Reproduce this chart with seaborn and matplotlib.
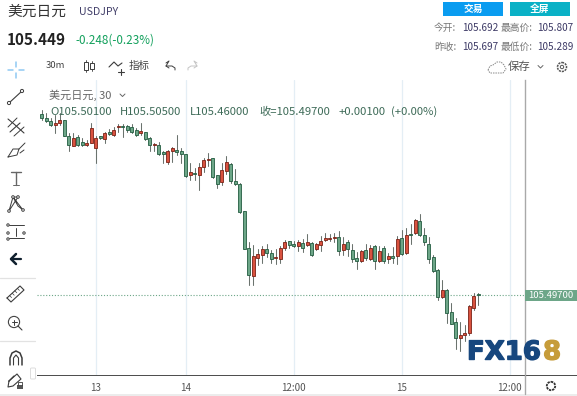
# USD/JPY 30m candlesticks inside a trading-widget frame

import numpy as np
import pandas as pd
import matplotlib
matplotlib.use("Agg")
import matplotlib.pyplot as plt
import matplotlib.patheffects as pe
from matplotlib.patches import Circle, FancyBboxPatch, Rectangle
import seaborn as sns

# ── Data ────────────────────────────────────────────────────────
candle_dir = list("GGGRRGGRGG" "RRRGRGRRGG" "GGRGGRGGRR" "GGGRGRRRGG" "RRGGGGGRRR"
                  "GGRRRGGRGR" "GRRRRRGRGG" "GRGRGRGRGR" "GRGRGGGGGR" "GGGRRRRG")
body_top = [106.205, 106.190, 106.177, 106.170, 106.182, 106.182, 106.119, 106.110, 106.115, 106.097,
            106.093, 106.149, 106.110, 106.117, 106.130, 106.135, 106.143, 106.156, 106.156, 106.157,
            106.154, 106.143, 106.140, 106.134, 106.110, 106.088, 106.084, 106.057, 106.061, 106.071,
            106.065, 106.061, 106.048, 105.979, 105.974, 105.997, 106.026, 106.028, 106.032, 105.965,
            105.985, 106.017, 106.009, 105.944, 105.930, 105.827, 105.681, 105.649, 105.658, 105.677,
            105.677, 105.662, 105.647, 105.684, 105.707, 105.709, 105.697, 105.707, 105.701, 105.705,
            105.701, 105.696, 105.710, 105.722, 105.722, 105.725, 105.724, 105.698, 105.707, 105.675,
            105.642, 105.670, 105.675, 105.684, 105.689, 105.672, 105.681, 105.651, 105.649, 105.716,
            105.720, 105.731, 105.736, 105.792, 105.789, 105.733, 105.698, 105.646, 105.597, 105.520,
            105.519, 105.432, 105.393, 105.344, 105.350, 105.456, 105.495, 105.501]
body_bot = [106.188, 106.179, 106.160, 106.160, 106.171, 106.117, 106.082, 106.080, 106.084, 106.083,
            106.082, 106.093, 106.071, 106.110, 106.106, 106.126, 106.121, 106.152, 106.153, 106.141,
            106.136, 106.122, 106.130, 106.106, 106.082, 106.082, 106.048, 106.049, 106.019, 106.060,
            106.058, 106.048, 105.961, 105.965, 105.969, 105.967, 105.996, 106.026, 105.957, 105.932,
            105.941, 105.984, 105.945, 105.930, 105.824, 105.680, 105.575, 105.571, 105.645, 105.655,
            105.662, 105.638, 105.645, 105.641, 105.684, 105.694, 105.688, 105.688, 105.684, 105.692,
            105.653, 105.679, 105.692, 105.714, 105.718, 105.720, 105.672, 105.675, 105.679, 105.638,
            105.632, 105.633, 105.645, 105.640, 105.632, 105.633, 105.632, 105.638, 105.645, 105.651,
            105.658, 105.664, 105.732, 105.740, 105.732, 105.705, 105.638, 105.592, 105.493, 105.493,
            105.430, 105.387, 105.333, 105.333, 105.344, 105.352, 105.450, 105.497]
highs = [106.221, 106.208, 106.188, 106.201, 106.208, 106.182, 106.130, 106.130, 106.123, 106.110,
         106.104, 106.169, 106.117, 106.119, 106.136, 106.145, 106.153, 106.166, 106.166, 106.162,
         106.166, 106.149, 106.169, 106.136, 106.114, 106.091, 106.095, 106.062, 106.065, 106.074,
         106.123, 106.071, 106.049, 106.013, 105.993, 106.013, 106.032, 106.054, 106.034, 105.967,
         106.013, 106.039, 106.013, 105.989, 105.935, 105.828, 105.707, 105.694, 105.677, 105.688,
         105.698, 105.675, 105.677, 105.688, 105.714, 105.711, 105.711, 105.714, 105.716, 105.737,
         105.707, 105.703, 105.727, 105.740, 105.737, 105.742, 105.749, 105.724, 105.714, 105.698,
         105.668, 105.675, 105.697, 105.694, 105.694, 105.688, 105.690, 105.664, 105.685, 105.729,
         105.753, 105.759, 105.776, 105.794, 105.815, 105.759, 105.724, 105.655, 105.599, 105.558,
         105.521, 105.467, 105.408, 105.395, 105.382, 105.459, 105.506, 105.505]
lows = [106.182, 106.175, 106.158, 106.130, 106.162, 106.117, 106.062, 106.078, 106.078, 106.078,
        106.078, 106.091, 106.013, 106.106, 106.093, 106.123, 106.117, 106.136, 106.113, 106.136,
        106.130, 106.119, 106.123, 106.104, 106.062, 106.062, 106.043, 106.013, 106.010, 106.019,
        106.045, 106.013, 105.959, 105.948, 105.948, 105.909, 105.980, 106.000, 105.956, 105.915,
        105.928, 105.971, 105.937, 105.928, 105.820, 105.679, 105.538, 105.538, 105.616, 105.625,
        105.646, 105.623, 105.620, 105.625, 105.675, 105.681, 105.685, 105.672, 105.668, 105.688,
        105.651, 105.675, 105.672, 105.711, 105.711, 105.707, 105.655, 105.655, 105.649, 105.629,
        105.599, 105.629, 105.636, 105.636, 105.599, 105.629, 105.625, 105.623, 105.623, 105.620,
        105.655, 105.659, 105.698, 105.737, 105.729, 105.694, 105.623, 105.589, 105.480, 105.486,
        105.391, 105.385, 105.290, 105.282, 105.321, 105.343, 105.441, 105.460]
last_close = 105.497

time_ticks = [12, 32, 56, 80, 104]
time_labels = ["13", "14", "12:00", "15", "12:00"]

ohlc_labels = ["O105.50100", "H105.50500", "L105.46000", "收=105.49700", "+0.00100", "(+0.00%)"]
today_open, today_high = "105.692", "105.807"
prev_close, today_low = "105.697", "105.289"

GREEN_FILL, GREEN_EDGE = "#6da688", "#235c40"
RED_FILL, RED_EDGE = "#d9523f", "#7a2216"
GRID = "#e4eef5"
CN = ["Noto Sans CJK SC", "DejaVu Sans"]

sns.set_theme(style="white")
plt.rcParams["font.family"] = CN

W, H = 577, 396
fig = plt.figure(figsize=(W/100, H/100), dpi=100, facecolor="white")

# ── Candles ─────────────────────────────────────────────────────
ax = fig.add_axes([37/W, (H-375)/H, 488/W, 295/H])
df = pd.DataFrame({"i": np.arange(len(highs)), "dir": candle_dir, "top": body_top,
                   "bot": body_bot, "high": highs, "low": lows})
df["height"] = df["top"] - df["bot"]

wicks = df.melt(id_vars="i", value_vars=["high", "low"], value_name="price")
sns.lineplot(data=wicks, x="i", y="price", units="i", estimator=None, color="#6b736e",
             linewidth=0.75, legend=False, ax=ax, zorder=2)

for key, fill, edge in [("G", GREEN_FILL, GREEN_EDGE), ("R", RED_FILL, RED_EDGE)]:
    sub = df[df["dir"] == key]
    sns.barplot(data=sub, x="i", y="height", bottom=sub["bot"].values, native_scale=True,
                width=0.72, color=fill, saturation=1, edgecolor=edge, linewidth=0.6,
                errorbar=None, ax=ax, zorder=3)

ax.axhline(last_close, color="#6da688", linewidth=0.8, linestyle=(0, (1, 1.6)), zorder=1)

ax.set_xlim(-1.07, 107.38)
ax.set_ylim(105.187, 106.337)
ax.set_xticks(time_ticks)
ax.set_xticklabels(time_labels, fontsize=7, color="#555555")
ax.set_yticks([])
ax.set_xlabel("")
ax.set_ylabel("")
ax.tick_params(axis="x", length=3, width=0.7, color="#555555", pad=3)
ax.grid(True, axis="x", color=GRID, linewidth=0.9)
ax.set_axisbelow(True)
ax.patch.set_alpha(0)
sns.despine(ax=ax, left=True, top=True, right=False)
ax.spines["bottom"].set_color("#4a4a4a")
ax.spines["bottom"].set_linewidth(0.7)
ax.spines["right"].set_color("#a9a9a9")
ax.spines["right"].set_linewidth(1.0)

# last price tag on the right edge
tr = ax.get_yaxis_transform()
ax.add_patch(Rectangle((1.0, last_close - 0.023), 52/488, 0.046, transform=tr,
                       facecolor=GREEN_FILL, edgecolor="none", clip_on=False, zorder=5))
ax.text(1.0 + 26/488, last_close, "105.49700", transform=tr, fontsize=6.8, color="white",
        ha="center", va="center", clip_on=False, zorder=6)

# ── Widget frame, drawn in pixel space ──────────────────────────
ui = fig.add_axes([0, 0, 1, 1], zorder=10)
ui.set_xlim(0, W)
ui.set_ylim(H, 0)
ui.axis("off")
ui.patch.set_alpha(0)


def label(x, y, s, size=7, color="#555555", ha="left", **kw):
    ui.text(x, y, s, fontsize=size, color=color, ha=ha, va="center", family=CN, **kw)


def stroke(xs, ys, color="#3c3c3c", lw=0.8, **kw):
    ui.plot(xs, ys, color=color, linewidth=lw, solid_capstyle="round", **kw)


def ring(x, y, r=1.6, color="#3c3c3c"):
    ui.add_patch(Circle((x, y), r, facecolor="white", edgecolor=color, linewidth=0.7, zorder=4))


# header
label(7, 12, "美元日元", size=10.6, color="#333333")
label(79, 12, "USDJPY", size=7.6, color="#43406a")
label(7, 40, "105.449", size=11, color="#222222", fontweight="bold")
label(75, 40, "-0.248(-0.23%)", size=8.4, color="#12a05c")

ui.add_patch(Rectangle((443, 2), 60, 14, facecolor="#0a9cf0", edgecolor="none"))
ui.add_patch(Rectangle((510, 2), 60, 14, facecolor="#0ab1c6", edgecolor="none"))
label(473, 9, "交易", size=7, color="white", ha="center", fontweight="bold")
label(540, 9, "全屏", size=7, color="white", ha="center", fontweight="bold")

label(434, 28, "今开:", size=7, color="#777777")
label(462, 28, today_open, size=7.2, color="#3d3a66")
label(501, 28, "最高价:", size=7, color="#777777")
label(537, 28, today_high, size=7.2, color="#3d3a66")
label(434, 47, "昨收:", size=7, color="#777777")
label(462, 47, prev_close, size=7.2, color="#3d3a66")
label(501, 47, "最低价:", size=7, color="#777777")
label(537, 47, today_low, size=7.2, color="#3d3a66")

# top toolbar
label(46, 66, "30m", size=6.8, color="#444444")
stroke([86, 86], [60, 72], lw=0.6)
ui.add_patch(Rectangle((84, 62), 4, 8, facecolor="white", edgecolor="#3c3c3c", linewidth=0.7, zorder=4))
stroke([92, 92], [61, 71], lw=0.6)
ui.add_patch(Rectangle((90, 63), 4, 6, facecolor="white", edgecolor="#3c3c3c", linewidth=0.7, zorder=4))
stroke([109, 114, 118, 122], [67, 62, 66, 63])
stroke([118, 124], [72, 72])
stroke([121, 121], [69, 75])
label(129, 66, "指标", size=7.6, color="#444444")
stroke([166, 169, 166, 169], [63, 61, 66, 68], lw=0.7)
stroke([166, 172, 175, 175], [66, 66, 68, 70], lw=0.7)
stroke([197, 194, 197, 194], [63, 61, 66, 68], color="#c4c4c4", lw=0.7)
stroke([197, 191, 188, 188], [66, 66, 68, 70], color="#c4c4c4", lw=0.7)
stroke([488, 490, 493, 497, 501, 504, 506, 503, 490, 488],
       [70, 66, 65, 62, 62, 65, 69, 73, 73, 70], color="#888888", lw=0.7, linestyle=(0, (1.5, 1)))
label(508, 67, "保存", size=8.2, color="#555555")
stroke([538, 540.5, 543], [65.5, 68, 65.5], color="#666666", lw=0.7)
ui.add_patch(Circle((562, 67), 4.5, facecolor="none", edgecolor="#555555", linewidth=1.1, linestyle=(0, (1.4, 0.6))))
ui.add_patch(Circle((562, 67), 1.7, facecolor="none", edgecolor="#555555", linewidth=0.7))

# chart legend
label(49, 95, "美元日元, 30", size=8, color="#666666")
stroke([120, 122.5, 125], [94, 96.5, 94], color="#666666", lw=0.7)
for x, s in zip([50, 120, 190, 259, 339, 391], ohlc_labels):
    label(x, 112, s, size=8.1, color="#3e6b58")

# left toolbar
for x0, x1, y0, y1 in [(8, 13, 70, 70), (19, 24, 70, 70), (16, 16, 62, 67), (16, 16, 73, 78)]:
    stroke([x0, x1], [y0, y1], color="#8fc9f2", lw=1.1)
stroke([9, 22], [103, 91], lw=0.8)
ring(9, 103)
ring(22, 91)
stroke([8, 14, 24], [119, 124, 133], lw=0.8)
stroke([10, 20], [132, 123], lw=0.8)
stroke([8, 17], [127, 118], lw=0.7)
stroke([14, 24], [136, 127], lw=0.7)
stroke([8, 13, 19, 17, 8], [157, 149, 149, 155, 157], lw=0.7)
stroke([19, 25], [149, 143], lw=0.7)
stroke([20, 24], [153, 150], lw=0.7)
stroke([11, 21], [172, 172], color="#666666", lw=1.0)
stroke([16, 16], [172, 185], color="#666666", lw=1.0)
stroke([13, 19], [185, 185], color="#666666", lw=0.7)
stroke([9, 13, 18, 23, 13, 18, 9], [211, 197, 206, 210, 197, 197, 211], lw=0.7)
for px, py in [(9, 211), (13, 197), (18, 197), (23, 210)]:
    ring(px, py, r=1.3)
stroke([9, 24], [225, 225], lw=0.7)
stroke([9, 24], [238, 238], lw=0.7)
stroke([16, 16], [228, 236], lw=0.7)
for px, py in [(8, 225), (8, 233), (8, 239), (24, 233)]:
    ring(px, py, r=1.2)
ui.plot([11, 21], [259, 259], color="#10202e", linewidth=1.6)
ui.plot([16, 11, 16], [254, 259, 264], color="#10202e", linewidth=1.8)
stroke([0, 35], [278, 278], color="#e2e2e2", lw=0.9)
stroke([7, 20, 24, 11, 7], [298, 286, 290, 302, 298], lw=0.8)
for t in [0.2, 0.4, 0.6, 0.8]:
    stroke([7 + 13*t, 9 + 13*t], [298 - 12*t, 300 - 12*t], lw=0.5)
ui.add_patch(Circle((14, 322), 5.6, facecolor="none", edgecolor="#444444", linewidth=0.8))
stroke([18, 22], [326, 330], lw=0.8)
stroke([11.5, 16.5], [322, 322], lw=0.7)
stroke([14, 14], [319.5, 324.5], lw=0.7)
stroke([0, 35], [341, 341], color="#e2e2e2", lw=0.9)
stroke([10, 10, 12, 16, 20, 22, 22], [365, 358, 353, 351, 353, 358, 365], lw=1.1)
stroke([13.5, 13.5, 16, 18.5, 18.5], [365, 358, 355, 358, 365], lw=0.8)
stroke([9, 14], [381, 376], lw=0.9)
stroke([9, 8, 13, 21, 17, 9], [381, 387, 386, 379, 374, 381], lw=0.8)
ui.add_patch(Rectangle((17, 385), 6, 4, facecolor="#555555", edgecolor="none"))
stroke([18, 18, 22, 22], [385, 382, 382, 385], lw=0.6)
ui.add_patch(FancyBboxPatch((31.5, 369), 3, 9, boxstyle="round,pad=1", facecolor="white",
                            edgecolor="#d8d8d8", linewidth=0.6))

# axis lines running on past the plot area
stroke([525, 577], [375, 375], color="#4a4a4a", lw=0.7)
stroke([525, 525], [375, 394], color="#a9a9a9", lw=1.0)

# cursor settings and bottom strip
ui.add_patch(Circle((551, 386), 4.2, facecolor="none", edgecolor="#333333", linewidth=1.3, linestyle=(0, (1.3, 0.5))))
ui.add_patch(Rectangle((0, 394), W, 2, facecolor="#ececec", edgecolor="none"))

# watermark
thick = [pe.withStroke(linewidth=1.0, foreground="#17477e")]
ui.text(467, 352.5, "FX16", fontsize=18.7, color="#17477e", fontweight="bold", va="center",
        family="DejaVu Sans", path_effects=thick)
ui.text(543, 352.5, "8", fontsize=18.7, color="#c69c3a", fontweight="bold", va="center",
        family="DejaVu Sans", path_effects=[pe.withStroke(linewidth=1.0, foreground="#c69c3a")])

fig.savefig("out.png", dpi=100)
plt.close(fig)
